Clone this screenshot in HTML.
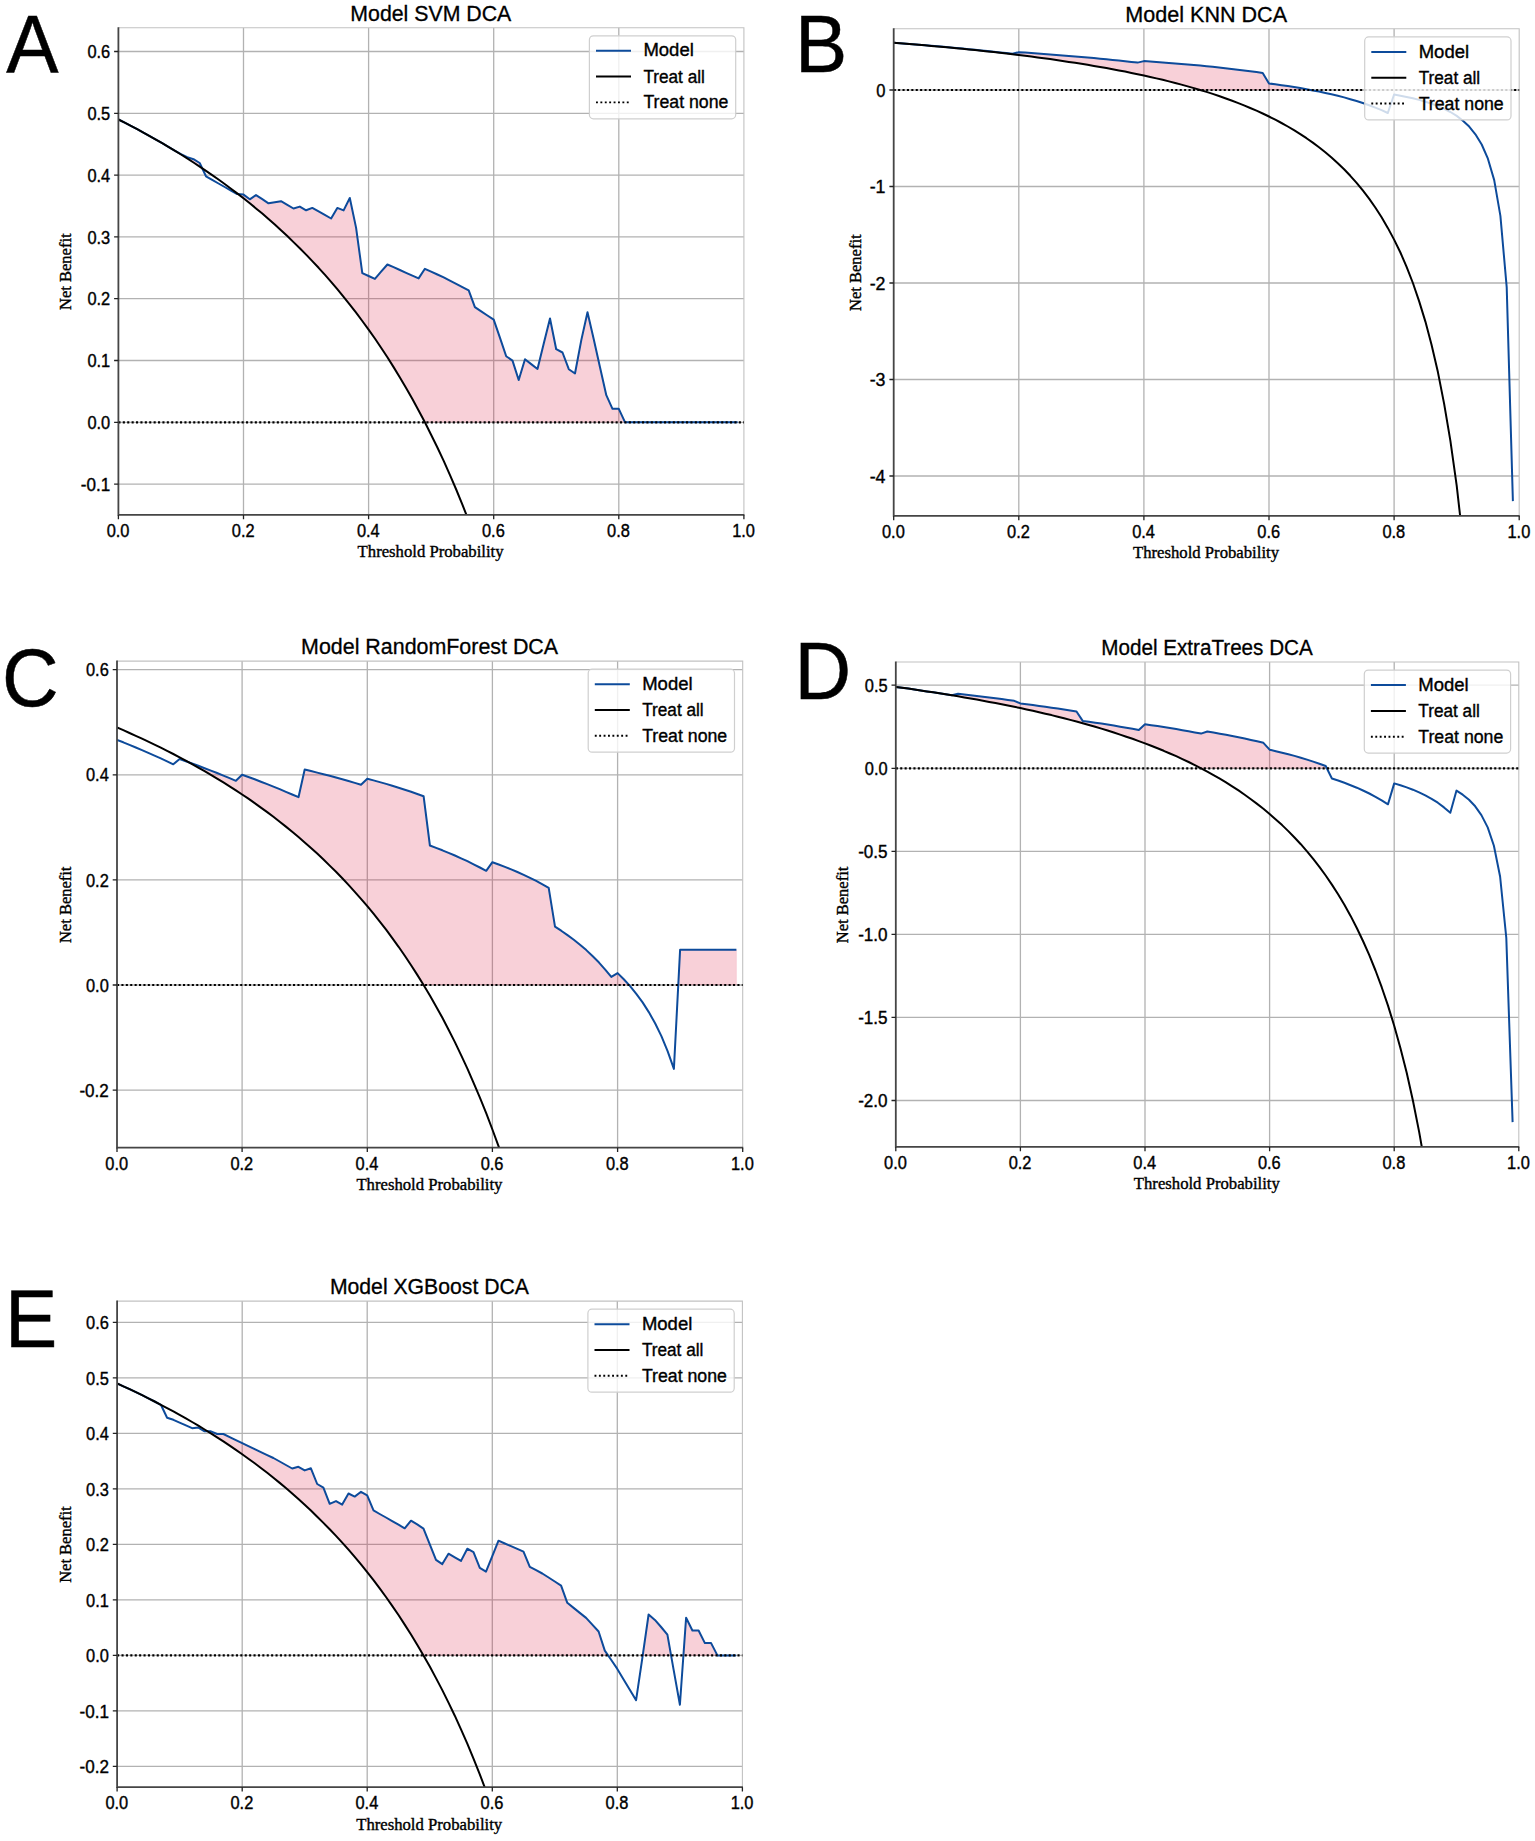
<!DOCTYPE html>
<html lang="en">
<head>
<meta charset="utf-8">
<title>DCA curves</title>
<style>
html,body{margin:0;padding:0;background:#fff;}
body{width:1535px;height:1841px;overflow:hidden;}
svg{display:block;}
text{white-space:pre;}
</style>
</head>
<body>
<svg width="1535" height="1841" viewBox="0 0 1535 1841">
<rect width="1535" height="1841" fill="#fff"/>
<g>
<clipPath id="clip0"><rect x="118.4" y="27.7" width="625.5" height="487.2"/></clipPath>
<path d="M243.5 27.7V514.9M368.6 27.7V514.9M493.7 27.7V514.9M618.8 27.7V514.9M118.4 484.1H743.9M118.4 422.3H743.9M118.4 360.5H743.9M118.4 298.7H743.9M118.4 236.9H743.9M118.4 175.1H743.9M118.4 113.3H743.9M118.4 51.5H743.9" fill="none" stroke="#b2b2b2" stroke-width="1.3"/>
<path d="M118.4 27.7H743.9V514.9" fill="none" stroke="#c2c2c2" stroke-width="1.1"/>
<path d="M174.7 150.7L181.0 154.2L187.2 157.1L193.5 159.2L199.7 163.0L202.2 168.2L202.2 168.2L199.7 166.6L193.5 162.5L187.2 158.4L181.0 154.5L174.7 150.7ZM238.3 194.2L243.5 194.6L249.8 199.3L256.0 195.1L262.3 199.2L268.5 203.3L274.8 202.2L281.0 201.2L287.3 204.8L293.5 208.5L299.8 206.6L306.1 210.3L312.3 207.9L318.6 211.4L324.8 214.9L331.1 218.5L337.3 207.9L343.6 210.4L349.8 198.0L356.1 227.9L362.3 273.1L368.6 276.0L374.9 278.9L381.1 271.7L387.4 264.5L393.6 267.2L399.9 270.0L406.1 272.8L412.4 275.6L418.6 278.4L424.9 268.8L431.1 271.7L437.4 274.5L443.7 277.4L449.9 280.6L456.2 283.9L462.4 287.2L468.7 290.4L474.9 307.1L481.2 311.3L487.4 315.5L493.7 319.7L500.0 337.9L506.2 356.2L512.5 360.6L518.7 380.0L525.0 359.3L531.2 364.1L537.5 369.0L543.7 343.7L550.0 318.5L556.2 349.2L562.5 352.5L568.8 369.2L575.0 373.5L581.3 340.1L587.5 312.3L593.8 339.5L600.0 367.3L606.3 395.2L612.5 408.8L618.8 408.8L625.1 422.3L625.1 422.3L618.8 422.3L612.5 422.3L606.3 422.3L600.0 422.3L593.8 422.3L587.5 422.3L581.3 422.3L575.0 422.3L568.8 422.3L562.5 422.3L556.2 422.3L550.0 422.3L543.7 422.3L537.5 422.3L531.2 422.3L525.0 422.3L518.7 422.3L512.5 422.3L506.2 422.3L500.0 422.3L493.7 422.3L487.4 422.3L481.2 422.3L474.9 422.3L468.7 422.3L462.4 422.3L456.2 422.3L449.9 422.3L443.7 422.3L437.4 422.3L431.1 422.3L424.9 422.3L418.6 410.4L412.4 399.0L406.1 388.0L399.9 377.4L393.6 367.1L387.4 357.2L381.1 347.7L374.9 338.5L368.6 329.6L362.3 321.0L356.1 312.7L349.8 304.6L343.6 296.8L337.3 289.2L331.1 281.8L324.8 274.7L318.6 267.8L312.3 261.1L306.1 254.6L299.8 248.2L293.5 242.1L287.3 236.1L281.0 230.2L274.8 224.5L268.5 219.0L262.3 213.6L256.0 208.4L249.8 203.3L243.5 198.3L238.3 194.2Z" fill="#dc143c" fill-opacity="0.2" stroke="#dc143c" stroke-opacity="0.12" stroke-width="0.8" clip-path="url(#clip0)"/>
<polyline points="118.4,119.5 124.7,122.7 130.9,125.9 137.2,129.2 143.4,132.6 149.7,136.1 155.9,139.6 162.2,143.2 168.4,146.9 174.7,150.7 181.0,154.2 187.2,157.1 193.5,159.2 199.7,163.0 206.0,176.3 212.2,179.9 218.5,183.5 224.7,187.0 231.0,190.6 237.2,194.1 243.5,194.6 249.8,199.3 256.0,195.1 262.3,199.2 268.5,203.3 274.8,202.2 281.0,201.2 287.3,204.8 293.5,208.5 299.8,206.6 306.1,210.3 312.3,207.9 318.6,211.4 324.8,214.9 331.1,218.5 337.3,207.9 343.6,210.4 349.8,198.0 356.1,227.9 362.3,273.1 368.6,276.0 374.9,278.9 381.1,271.7 387.4,264.5 393.6,267.2 399.9,270.0 406.1,272.8 412.4,275.6 418.6,278.4 424.9,268.8 431.1,271.7 437.4,274.5 443.7,277.4 449.9,280.6 456.2,283.9 462.4,287.2 468.7,290.4 474.9,307.1 481.2,311.3 487.4,315.5 493.7,319.7 500.0,337.9 506.2,356.2 512.5,360.6 518.7,380.0 525.0,359.3 531.2,364.1 537.5,369.0 543.7,343.7 550.0,318.5 556.2,349.2 562.5,352.5 568.8,369.2 575.0,373.5 581.3,340.1 587.5,312.3 593.8,339.5 600.0,367.3 606.3,395.2 612.5,408.8 618.8,408.8 625.1,422.3 631.3,422.3 637.6,422.3 643.8,422.3 650.1,422.3 656.3,422.3 662.6,422.3 668.8,422.3 675.1,422.3 681.4,422.3 687.6,422.3 693.9,422.3 700.1,422.3 706.4,422.3 712.6,422.3 718.9,422.3 725.1,422.3 731.4,422.3 737.6,422.3" fill="none" stroke="#0d4b9b" stroke-width="2" stroke-linejoin="round" clip-path="url(#clip0)"/>
<polyline points="118.4,119.5 124.7,122.7 130.9,125.9 137.2,129.2 143.4,132.6 149.7,136.1 155.9,139.6 162.2,143.2 168.4,146.9 174.7,150.7 181.0,154.5 187.2,158.4 193.5,162.5 199.7,166.6 206.0,170.8 212.2,175.1 218.5,179.5 224.7,184.0 231.0,188.7 237.2,193.4 243.5,198.3 249.8,203.3 256.0,208.4 262.3,213.6 268.5,219.0 274.8,224.5 281.0,230.2 287.3,236.1 293.5,242.1 299.8,248.2 306.1,254.6 312.3,261.1 318.6,267.8 324.8,274.7 331.1,281.8 337.3,289.2 343.6,296.8 349.8,304.6 356.1,312.7 362.3,321.0 368.6,329.6 374.9,338.5 381.1,347.7 387.4,357.2 393.6,367.1 399.9,377.4 406.1,388.0 412.4,399.0 418.6,410.4 424.9,422.3 431.1,434.7 437.4,447.5 443.7,460.9 449.9,474.9 456.2,489.5 462.4,504.7 468.7,520.6 474.9,537.3 481.2,554.7 487.4,573.0 493.7,592.2 500.0,612.5 506.2,633.7 512.5,656.1 518.7,679.8 525.0,704.8 531.2,731.3 537.5,759.4 543.7,789.2 550.0,821.0 556.2,854.9 562.5,891.1" fill="none" stroke="#000" stroke-width="2" stroke-linejoin="round" clip-path="url(#clip0)"/>
<path d="M118.4 422.3H743.9" stroke="#000" stroke-width="2.2" stroke-dasharray="2.1 2.3" fill="none"/>
<path d="M118.4 27.2V514.9H744.4" fill="none" stroke="#454545" stroke-width="1.8"/>
<path d="M118.4 514.9v4.3M243.5 514.9v4.3M368.6 514.9v4.3M493.7 514.9v4.3M618.8 514.9v4.3M743.9 514.9v4.3M118.4 484.1h-4.3M118.4 422.3h-4.3M118.4 360.5h-4.3M118.4 298.7h-4.3M118.4 236.9h-4.3M118.4 175.1h-4.3M118.4 113.3h-4.3M118.4 51.5h-4.3" fill="none" stroke="#222" stroke-width="1.3"/>
<g font-family='"Liberation Sans", sans-serif' font-size="18.8" fill="#000" stroke="#000" stroke-width="0.4">
<text x="106.7" y="536.8" textLength="22.8" lengthAdjust="spacingAndGlyphs">0.0</text>
<text x="231.8" y="536.8" textLength="22.8" lengthAdjust="spacingAndGlyphs">0.2</text>
<text x="356.9" y="536.8" textLength="22.8" lengthAdjust="spacingAndGlyphs">0.4</text>
<text x="482.0" y="536.8" textLength="22.8" lengthAdjust="spacingAndGlyphs">0.6</text>
<text x="607.1" y="536.8" textLength="22.8" lengthAdjust="spacingAndGlyphs">0.8</text>
<text x="732.2" y="536.8" textLength="22.8" lengthAdjust="spacingAndGlyphs">1.0</text>
<text x="80.8" y="490.7" textLength="29.4" lengthAdjust="spacingAndGlyphs">-0.1</text>
<text x="87.4" y="428.9" textLength="22.8" lengthAdjust="spacingAndGlyphs">0.0</text>
<text x="87.4" y="367.1" textLength="22.8" lengthAdjust="spacingAndGlyphs">0.1</text>
<text x="87.4" y="305.3" textLength="22.8" lengthAdjust="spacingAndGlyphs">0.2</text>
<text x="87.4" y="243.5" textLength="22.8" lengthAdjust="spacingAndGlyphs">0.3</text>
<text x="87.4" y="181.7" textLength="22.8" lengthAdjust="spacingAndGlyphs">0.4</text>
<text x="87.4" y="119.9" textLength="22.8" lengthAdjust="spacingAndGlyphs">0.5</text>
<text x="87.4" y="58.1" textLength="22.8" lengthAdjust="spacingAndGlyphs">0.6</text>
</g>
<text x="430.6" y="557.4" font-family='"Liberation Serif", serif' font-size="17.6" stroke="#000" stroke-width="0.4" text-anchor="middle" textLength="146" lengthAdjust="spacingAndGlyphs">Threshold Probability</text>
<text transform="translate(71.4 271.7) rotate(-90)" font-family='"Liberation Serif", serif' font-size="17.6" stroke="#000" stroke-width="0.4" text-anchor="middle" textLength="76.5" lengthAdjust="spacingAndGlyphs">Net Benefit</text>
<text x="430.8" y="20.9" font-family='"Liberation Sans", sans-serif' font-size="21.2" stroke="#000" stroke-width="0.3" text-anchor="middle" textLength="161.0" lengthAdjust="spacingAndGlyphs">Model SVM DCA</text>
<rect x="589.4" y="35.8" width="146.3" height="83.0" rx="4" ry="4" fill="#fff" fill-opacity="0.8" stroke="#cfcfcf" stroke-width="1.2"/>
<path d="M596.0 50.8h35" stroke="#0d4b9b" stroke-width="2" fill="none"/>
<path d="M596.0 76.6h35" stroke="#000" stroke-width="2" fill="none"/>
<path d="M596.0 102.4h35" stroke="#000" stroke-width="1.9" stroke-dasharray="1.9 2.5" fill="none"/>
<g font-family='"Liberation Sans", sans-serif' font-size="17.6" fill="#000" stroke="#000" stroke-width="0.35">
<text x="643.4" y="56.4" textLength="50.4" lengthAdjust="spacingAndGlyphs">Model</text>
<text x="643.4" y="82.7" textLength="61.5" lengthAdjust="spacingAndGlyphs">Treat all</text>
<text x="643.4" y="108.4" textLength="85.0" lengthAdjust="spacingAndGlyphs">Treat none</text>
</g>
<text transform="translate(6.3 72.4) scale(0.965 1)" font-family='"Liberation Sans", sans-serif' font-size="81.2" fill="#000" stroke="#000" stroke-width="0.5">A</text>
</g>
<g>
<clipPath id="clip1"><rect x="893.7" y="28.8" width="625.5" height="487.1"/></clipPath>
<path d="M1018.8 28.8V515.9M1143.9 28.8V515.9M1269.0 28.8V515.9M1394.1 28.8V515.9M893.7 90.0H1519.2M893.7 186.5H1519.2M893.7 283.0H1519.2M893.7 379.5H1519.2M893.7 476.0H1519.2" fill="none" stroke="#b2b2b2" stroke-width="1.3"/>
<path d="M893.7 28.8H1519.2V515.9" fill="none" stroke="#c2c2c2" stroke-width="1.1"/>
<path d="M893.7 42.7L900.0 43.2L906.2 43.7L912.5 44.2L918.7 44.7L925.0 45.2L931.2 45.7L937.5 46.3L943.7 46.8L950.0 47.4L956.2 48.0L962.5 48.6L968.8 49.2L975.0 49.8L981.3 50.4L987.5 51.1L993.8 51.7L1000.0 52.4L1006.3 53.1L1012.5 53.8L1018.8 52.2L1025.1 52.6L1031.3 53.0L1037.6 53.5L1043.8 53.9L1050.1 54.4L1056.3 54.9L1062.6 55.4L1068.8 55.9L1075.1 56.4L1081.4 56.9L1087.6 57.5L1093.9 58.1L1100.1 58.7L1106.4 59.3L1112.6 59.9L1118.9 60.5L1125.1 61.2L1131.4 61.9L1137.6 62.6L1143.9 61.1L1150.2 61.5L1156.4 61.9L1162.7 62.4L1168.9 62.9L1175.2 63.4L1181.4 63.9L1187.7 64.5L1193.9 65.0L1200.2 65.6L1206.5 66.2L1212.7 66.8L1219.0 67.5L1225.2 68.2L1231.5 68.9L1237.7 69.7L1244.0 70.4L1250.2 71.3L1256.5 72.1L1262.7 73.0L1269.0 83.5L1275.3 84.3L1281.5 85.2L1287.8 86.1L1294.0 87.1L1300.3 88.1L1306.5 89.2L1310.7 90.0L1310.7 90.0L1306.5 90.0L1300.3 90.0L1294.0 90.0L1287.8 90.0L1281.5 90.0L1275.3 90.0L1269.0 90.0L1262.7 90.0L1256.5 90.0L1250.2 90.0L1244.0 90.0L1237.7 90.0L1231.5 90.0L1225.2 90.0L1219.0 90.0L1212.7 90.0L1206.5 90.0L1200.2 90.0L1193.9 88.1L1187.7 86.4L1181.4 84.6L1175.2 83.0L1168.9 81.4L1162.7 79.8L1156.4 78.4L1150.2 76.9L1143.9 75.5L1137.6 74.2L1131.4 72.9L1125.1 71.6L1118.9 70.4L1112.6 69.2L1106.4 68.1L1100.1 67.0L1093.9 65.9L1087.6 64.8L1081.4 63.8L1075.1 62.8L1068.8 61.9L1062.6 60.9L1056.3 60.0L1050.1 59.1L1043.8 58.3L1037.6 57.4L1031.3 56.6L1025.1 55.8L1018.8 55.0L1012.5 54.3L1006.3 53.5L1000.0 52.8L993.8 52.1L987.5 51.4L981.3 50.7L975.0 50.1L968.8 49.4L962.5 48.8L956.2 48.2L950.0 47.6L943.7 47.0L937.5 46.4L931.2 45.9L925.0 45.3L918.7 44.8L912.5 44.2L906.2 43.7L900.0 43.2L893.7 42.7Z" fill="#dc143c" fill-opacity="0.2" stroke="#dc143c" stroke-opacity="0.12" stroke-width="0.8" clip-path="url(#clip1)"/>
<polyline points="893.7,42.7 900.0,43.2 906.2,43.7 912.5,44.2 918.7,44.7 925.0,45.2 931.2,45.7 937.5,46.3 943.7,46.8 950.0,47.4 956.2,48.0 962.5,48.6 968.8,49.2 975.0,49.8 981.3,50.4 987.5,51.1 993.8,51.7 1000.0,52.4 1006.3,53.1 1012.5,53.8 1018.8,52.2 1025.1,52.6 1031.3,53.0 1037.6,53.5 1043.8,53.9 1050.1,54.4 1056.3,54.9 1062.6,55.4 1068.8,55.9 1075.1,56.4 1081.4,56.9 1087.6,57.5 1093.9,58.1 1100.1,58.7 1106.4,59.3 1112.6,59.9 1118.9,60.5 1125.1,61.2 1131.4,61.9 1137.6,62.6 1143.9,61.1 1150.2,61.5 1156.4,61.9 1162.7,62.4 1168.9,62.9 1175.2,63.4 1181.4,63.9 1187.7,64.5 1193.9,65.0 1200.2,65.6 1206.5,66.2 1212.7,66.8 1219.0,67.5 1225.2,68.2 1231.5,68.9 1237.7,69.7 1244.0,70.4 1250.2,71.3 1256.5,72.1 1262.7,73.0 1269.0,83.5 1275.3,84.3 1281.5,85.2 1287.8,86.1 1294.0,87.1 1300.3,88.1 1306.5,89.2 1312.8,90.4 1319.0,91.6 1325.3,92.9 1331.5,94.3 1337.8,95.8 1344.1,97.4 1350.3,99.2 1356.6,101.0 1362.8,103.0 1369.1,105.2 1375.3,107.6 1381.6,110.1 1387.8,113.0 1394.1,94.5 1400.4,95.7 1406.6,96.9 1412.9,98.3 1419.1,99.9 1425.4,101.7 1431.6,103.7 1437.9,106.1 1444.1,108.8 1450.4,112.0 1456.7,115.9 1462.9,120.7 1469.2,126.6 1475.4,134.3 1481.7,144.5 1487.9,158.7 1494.2,180.1 1500.4,215.8 1506.7,287.1 1512.9,501.1" fill="none" stroke="#0d4b9b" stroke-width="2" stroke-linejoin="round" clip-path="url(#clip1)"/>
<polyline points="893.7,42.7 900.0,43.2 906.2,43.7 912.5,44.2 918.7,44.8 925.0,45.3 931.2,45.9 937.5,46.4 943.7,47.0 950.0,47.6 956.2,48.2 962.5,48.8 968.8,49.4 975.0,50.1 981.3,50.7 987.5,51.4 993.8,52.1 1000.0,52.8 1006.3,53.5 1012.5,54.3 1018.8,55.0 1025.1,55.8 1031.3,56.6 1037.6,57.4 1043.8,58.3 1050.1,59.1 1056.3,60.0 1062.6,60.9 1068.8,61.9 1075.1,62.8 1081.4,63.8 1087.6,64.8 1093.9,65.9 1100.1,67.0 1106.4,68.1 1112.6,69.2 1118.9,70.4 1125.1,71.6 1131.4,72.9 1137.6,74.2 1143.9,75.5 1150.2,76.9 1156.4,78.4 1162.7,79.8 1168.9,81.4 1175.2,83.0 1181.4,84.6 1187.7,86.4 1193.9,88.1 1200.2,90.0 1206.5,91.9 1212.7,93.9 1219.0,96.0 1225.2,98.2 1231.5,100.5 1237.7,102.9 1244.0,105.4 1250.2,108.0 1256.5,110.7 1262.7,113.5 1269.0,116.5 1275.3,119.7 1281.5,123.0 1287.8,126.5 1294.0,130.2 1300.3,134.1 1306.5,138.2 1312.8,142.6 1319.0,147.3 1325.3,152.3 1331.5,157.5 1337.8,163.2 1344.1,169.3 1350.3,175.8 1356.6,182.8 1362.8,190.4 1369.1,198.6 1375.3,207.5 1381.6,217.2 1387.8,227.9 1394.1,239.6 1400.4,252.5 1406.6,266.9 1412.9,283.0 1419.1,301.1 1425.4,321.6 1431.6,345.0 1437.9,372.1 1444.1,403.6 1450.4,440.9 1456.7,485.7 1462.9,540.3 1469.2,608.7 1475.4,696.6 1481.7,813.7" fill="none" stroke="#000" stroke-width="2" stroke-linejoin="round" clip-path="url(#clip1)"/>
<path d="M893.7 90.0H1519.2" stroke="#000" stroke-width="2.2" stroke-dasharray="2.1 2.3" fill="none"/>
<path d="M893.7 28.3V515.9H1519.7" fill="none" stroke="#454545" stroke-width="1.8"/>
<path d="M893.7 515.9v4.3M1018.8 515.9v4.3M1143.9 515.9v4.3M1269.0 515.9v4.3M1394.1 515.9v4.3M1519.2 515.9v4.3M893.7 90.0h-4.3M893.7 186.5h-4.3M893.7 283.0h-4.3M893.7 379.5h-4.3M893.7 476.0h-4.3" fill="none" stroke="#222" stroke-width="1.3"/>
<g font-family='"Liberation Sans", sans-serif' font-size="18.8" fill="#000" stroke="#000" stroke-width="0.4">
<text x="882.0" y="537.8" textLength="22.8" lengthAdjust="spacingAndGlyphs">0.0</text>
<text x="1007.1" y="537.8" textLength="22.8" lengthAdjust="spacingAndGlyphs">0.2</text>
<text x="1132.2" y="537.8" textLength="22.8" lengthAdjust="spacingAndGlyphs">0.4</text>
<text x="1257.3" y="537.8" textLength="22.8" lengthAdjust="spacingAndGlyphs">0.6</text>
<text x="1382.4" y="537.8" textLength="22.8" lengthAdjust="spacingAndGlyphs">0.8</text>
<text x="1507.5" y="537.8" textLength="22.8" lengthAdjust="spacingAndGlyphs">1.0</text>
<text x="876.3" y="96.6" textLength="9.2" lengthAdjust="spacingAndGlyphs">0</text>
<text x="869.7" y="193.1" textLength="15.8" lengthAdjust="spacingAndGlyphs">-1</text>
<text x="869.7" y="289.6" textLength="15.8" lengthAdjust="spacingAndGlyphs">-2</text>
<text x="869.7" y="386.1" textLength="15.8" lengthAdjust="spacingAndGlyphs">-3</text>
<text x="869.7" y="482.6" textLength="15.8" lengthAdjust="spacingAndGlyphs">-4</text>
</g>
<text x="1206.0" y="558.4" font-family='"Liberation Serif", serif' font-size="17.6" stroke="#000" stroke-width="0.4" text-anchor="middle" textLength="146" lengthAdjust="spacingAndGlyphs">Threshold Probability</text>
<text transform="translate(861.0 272.7) rotate(-90)" font-family='"Liberation Serif", serif' font-size="17.6" stroke="#000" stroke-width="0.4" text-anchor="middle" textLength="76.5" lengthAdjust="spacingAndGlyphs">Net Benefit</text>
<text x="1206.2" y="22.0" font-family='"Liberation Sans", sans-serif' font-size="21.2" stroke="#000" stroke-width="0.3" text-anchor="middle" textLength="161.7" lengthAdjust="spacingAndGlyphs">Model KNN DCA</text>
<rect x="1364.7" y="36.9" width="146.3" height="83.0" rx="4" ry="4" fill="#fff" fill-opacity="0.8" stroke="#cfcfcf" stroke-width="1.2"/>
<path d="M1371.3 51.9h35" stroke="#0d4b9b" stroke-width="2" fill="none"/>
<path d="M1371.3 77.7h35" stroke="#000" stroke-width="2" fill="none"/>
<path d="M1371.3 103.5h35" stroke="#000" stroke-width="1.9" stroke-dasharray="1.9 2.5" fill="none"/>
<g font-family='"Liberation Sans", sans-serif' font-size="17.6" fill="#000" stroke="#000" stroke-width="0.35">
<text x="1418.7" y="57.5" textLength="50.4" lengthAdjust="spacingAndGlyphs">Model</text>
<text x="1418.7" y="83.8" textLength="61.5" lengthAdjust="spacingAndGlyphs">Treat all</text>
<text x="1418.7" y="109.5" textLength="85.0" lengthAdjust="spacingAndGlyphs">Treat none</text>
</g>
<text transform="translate(795.0 72.4) scale(0.965 1)" font-family='"Liberation Sans", sans-serif' font-size="81.2" fill="#000" stroke="#000" stroke-width="0.5">B</text>
</g>
<g>
<clipPath id="clip2"><rect x="117.0" y="661.1" width="625.7" height="486.6"/></clipPath>
<path d="M242.1 661.1V1147.7M367.3 661.1V1147.7M492.4 661.1V1147.7M617.6 661.1V1147.7M117.0 1090.1H742.7M117.0 985.0H742.7M117.0 879.9H742.7M117.0 774.8H742.7M117.0 669.7H742.7" fill="none" stroke="#b2b2b2" stroke-width="1.3"/>
<path d="M117.0 661.1H742.7V1147.7" fill="none" stroke="#c2c2c2" stroke-width="1.1"/>
<path d="M189.2 762.5L192.1 763.5L198.3 765.8L204.6 768.2L210.9 770.6L217.1 773.0L223.4 775.6L229.6 778.2L235.9 780.8L242.1 774.8L248.4 777.0L254.7 779.3L260.9 781.7L267.2 784.1L273.4 786.6L279.7 789.1L285.9 791.8L292.2 794.5L298.5 797.2L304.7 769.5L311.0 771.0L317.2 772.6L323.5 774.2L329.7 775.8L336.0 777.5L342.3 779.2L348.5 781.0L354.8 782.9L361.0 784.8L367.3 778.7L373.5 780.4L379.8 782.1L386.1 783.9L392.3 785.8L398.6 787.7L404.8 789.7L411.1 791.8L417.3 794.0L423.6 796.2L429.9 845.5L436.1 847.9L442.4 850.3L448.6 852.9L454.9 855.5L461.1 858.3L467.4 861.2L473.6 864.3L479.9 867.5L486.2 870.8L492.4 862.2L498.7 864.5L504.9 866.9L511.2 869.4L517.4 872.0L523.7 874.8L530.0 877.8L536.2 880.9L542.5 884.3L548.7 887.8L555.0 926.7L561.2 930.7L567.5 935.1L573.8 939.7L580.0 944.7L586.3 950.1L592.5 956.0L598.8 962.3L605.0 969.3L611.3 976.9L617.6 973.1L623.8 979.3L629.1 985.0L629.1 985.0L623.8 985.0L617.6 985.0L611.3 985.0L605.0 985.0L598.8 985.0L592.5 985.0L586.3 985.0L580.0 985.0L573.8 985.0L567.5 985.0L561.2 985.0L555.0 985.0L548.7 985.0L542.5 985.0L536.2 985.0L530.0 985.0L523.7 985.0L517.4 985.0L511.2 985.0L504.9 985.0L498.7 985.0L492.4 985.0L486.2 985.0L479.9 985.0L473.6 985.0L467.4 985.0L461.1 985.0L454.9 985.0L448.6 985.0L442.4 985.0L436.1 985.0L429.9 985.0L423.6 985.0L417.3 974.9L411.1 965.2L404.8 955.8L398.6 946.8L392.3 938.1L386.1 929.7L379.8 921.6L373.5 913.7L367.3 906.2L361.0 898.9L354.8 891.8L348.5 884.9L342.3 878.3L336.0 871.8L329.7 865.6L323.5 859.5L317.2 853.6L311.0 847.9L304.7 842.4L298.5 837.0L292.2 831.7L285.9 826.6L279.7 821.7L273.4 816.8L267.2 812.1L260.9 807.6L254.7 803.1L248.4 798.7L242.1 794.5L235.9 790.4L229.6 786.3L223.4 782.4L217.1 778.6L210.9 774.8L204.6 771.1L198.3 767.6L192.1 764.1L189.2 762.5ZM678.3 985.0L680.1 949.8L686.4 949.8L692.6 949.8L698.9 949.8L705.2 949.8L711.4 949.8L717.7 949.8L723.9 949.8L730.2 949.8L736.4 949.8L736.4 985.0L730.2 985.0L723.9 985.0L717.7 985.0L711.4 985.0L705.2 985.0L698.9 985.0L692.6 985.0L686.4 985.0L680.1 985.0L678.3 985.0Z" fill="#dc143c" fill-opacity="0.2" stroke="#dc143c" stroke-opacity="0.12" stroke-width="0.8" clip-path="url(#clip2)"/>
<polyline points="117.0,739.9 123.3,742.3 129.5,744.9 135.8,747.5 142.0,750.1 148.3,752.9 154.5,755.6 160.8,758.4 167.1,761.3 173.3,764.3 179.6,759.1 185.8,761.3 192.1,763.5 198.3,765.8 204.6,768.2 210.9,770.6 217.1,773.0 223.4,775.6 229.6,778.2 235.9,780.8 242.1,774.8 248.4,777.0 254.7,779.3 260.9,781.7 267.2,784.1 273.4,786.6 279.7,789.1 285.9,791.8 292.2,794.5 298.5,797.2 304.7,769.5 311.0,771.0 317.2,772.6 323.5,774.2 329.7,775.8 336.0,777.5 342.3,779.2 348.5,781.0 354.8,782.9 361.0,784.8 367.3,778.7 373.5,780.4 379.8,782.1 386.1,783.9 392.3,785.8 398.6,787.7 404.8,789.7 411.1,791.8 417.3,794.0 423.6,796.2 429.9,845.5 436.1,847.9 442.4,850.3 448.6,852.9 454.9,855.5 461.1,858.3 467.4,861.2 473.6,864.3 479.9,867.5 486.2,870.8 492.4,862.2 498.7,864.5 504.9,866.9 511.2,869.4 517.4,872.0 523.7,874.8 530.0,877.8 536.2,880.9 542.5,884.3 548.7,887.8 555.0,926.7 561.2,930.7 567.5,935.1 573.8,939.7 580.0,944.7 586.3,950.1 592.5,956.0 598.8,962.3 605.0,969.3 611.3,976.9 617.6,973.1 623.8,979.3 630.1,986.1 636.3,993.8 642.6,1002.4 648.8,1012.1 655.1,1023.3 661.4,1036.1 667.6,1051.1 673.9,1068.9 680.1,949.8 686.4,949.8 692.6,949.8 698.9,949.8 705.2,949.8 711.4,949.8 717.7,949.8 723.9,949.8 730.2,949.8 736.4,949.8" fill="none" stroke="#0d4b9b" stroke-width="2" stroke-linejoin="round" clip-path="url(#clip2)"/>
<polyline points="117.0,727.5 123.3,730.2 129.5,733.0 135.8,735.8 142.0,738.7 148.3,741.6 154.5,744.6 160.8,747.7 167.1,750.8 173.3,754.0 179.6,757.3 185.8,760.6 192.1,764.1 198.3,767.6 204.6,771.1 210.9,774.8 217.1,778.6 223.4,782.4 229.6,786.3 235.9,790.4 242.1,794.5 248.4,798.7 254.7,803.1 260.9,807.6 267.2,812.1 273.4,816.8 279.7,821.7 285.9,826.6 292.2,831.7 298.5,837.0 304.7,842.4 311.0,847.9 317.2,853.6 323.5,859.5 329.7,865.6 336.0,871.8 342.3,878.3 348.5,884.9 354.8,891.8 361.0,898.9 367.3,906.2 373.5,913.7 379.8,921.6 386.1,929.7 392.3,938.1 398.6,946.8 404.8,955.8 411.1,965.2 417.3,974.9 423.6,985.0 429.9,995.5 436.1,1006.4 442.4,1017.8 448.6,1029.7 454.9,1042.1 461.1,1055.1 467.4,1068.6 473.6,1082.8 479.9,1097.6 486.2,1113.2 492.4,1129.5 498.7,1146.7 504.9,1164.8 511.2,1183.8 517.4,1204.0 523.7,1225.2 530.0,1247.8 536.2,1271.6 542.5,1297.0 548.7,1324.0 555.0,1352.8 561.2,1383.7 567.5,1416.7 573.8,1452.1 580.0,1490.3 586.3,1531.5" fill="none" stroke="#000" stroke-width="2" stroke-linejoin="round" clip-path="url(#clip2)"/>
<path d="M117.0 985.0H742.7" stroke="#000" stroke-width="2.2" stroke-dasharray="2.1 2.3" fill="none"/>
<path d="M117.0 660.6V1147.7H743.2" fill="none" stroke="#454545" stroke-width="1.8"/>
<path d="M117.0 1147.7v4.3M242.1 1147.7v4.3M367.3 1147.7v4.3M492.4 1147.7v4.3M617.6 1147.7v4.3M742.7 1147.7v4.3M117.0 1090.1h-4.3M117.0 985.0h-4.3M117.0 879.9h-4.3M117.0 774.8h-4.3M117.0 669.7h-4.3" fill="none" stroke="#222" stroke-width="1.3"/>
<g font-family='"Liberation Sans", sans-serif' font-size="18.8" fill="#000" stroke="#000" stroke-width="0.4">
<text x="105.3" y="1169.6" textLength="22.8" lengthAdjust="spacingAndGlyphs">0.0</text>
<text x="230.4" y="1169.6" textLength="22.8" lengthAdjust="spacingAndGlyphs">0.2</text>
<text x="355.6" y="1169.6" textLength="22.8" lengthAdjust="spacingAndGlyphs">0.4</text>
<text x="480.7" y="1169.6" textLength="22.8" lengthAdjust="spacingAndGlyphs">0.6</text>
<text x="605.9" y="1169.6" textLength="22.8" lengthAdjust="spacingAndGlyphs">0.8</text>
<text x="731.0" y="1169.6" textLength="22.8" lengthAdjust="spacingAndGlyphs">1.0</text>
<text x="79.4" y="1096.7" textLength="29.4" lengthAdjust="spacingAndGlyphs">-0.2</text>
<text x="86.0" y="991.6" textLength="22.8" lengthAdjust="spacingAndGlyphs">0.0</text>
<text x="86.0" y="886.5" textLength="22.8" lengthAdjust="spacingAndGlyphs">0.2</text>
<text x="86.0" y="781.4" textLength="22.8" lengthAdjust="spacingAndGlyphs">0.4</text>
<text x="86.0" y="676.3" textLength="22.8" lengthAdjust="spacingAndGlyphs">0.6</text>
</g>
<text x="429.4" y="1190.2" font-family='"Liberation Serif", serif' font-size="17.6" stroke="#000" stroke-width="0.4" text-anchor="middle" textLength="146" lengthAdjust="spacingAndGlyphs">Threshold Probability</text>
<text transform="translate(71.4 904.8) rotate(-90)" font-family='"Liberation Serif", serif' font-size="17.6" stroke="#000" stroke-width="0.4" text-anchor="middle" textLength="76.5" lengthAdjust="spacingAndGlyphs">Net Benefit</text>
<text x="429.6" y="654.3" font-family='"Liberation Sans", sans-serif' font-size="21.2" stroke="#000" stroke-width="0.3" text-anchor="middle" textLength="257.0" lengthAdjust="spacingAndGlyphs">Model RandomForest DCA</text>
<rect x="588.2" y="669.2" width="146.3" height="83.0" rx="4" ry="4" fill="#fff" fill-opacity="0.8" stroke="#cfcfcf" stroke-width="1.2"/>
<path d="M594.8 684.2h35" stroke="#0d4b9b" stroke-width="2" fill="none"/>
<path d="M594.8 710.0h35" stroke="#000" stroke-width="2" fill="none"/>
<path d="M594.8 735.8h35" stroke="#000" stroke-width="1.9" stroke-dasharray="1.9 2.5" fill="none"/>
<g font-family='"Liberation Sans", sans-serif' font-size="17.6" fill="#000" stroke="#000" stroke-width="0.35">
<text x="642.2" y="689.8" textLength="50.4" lengthAdjust="spacingAndGlyphs">Model</text>
<text x="642.2" y="716.1" textLength="61.5" lengthAdjust="spacingAndGlyphs">Treat all</text>
<text x="642.2" y="741.8" textLength="85.0" lengthAdjust="spacingAndGlyphs">Treat none</text>
</g>
<text transform="translate(2.0 706.1) scale(0.965 1)" font-family='"Liberation Sans", sans-serif' font-size="81.2" fill="#000" stroke="#000" stroke-width="0.5">C</text>
</g>
<g>
<clipPath id="clip3"><rect x="895.8" y="662.0" width="623.0" height="484.9"/></clipPath>
<path d="M1020.4 662.0V1146.9M1145.0 662.0V1146.9M1269.6 662.0V1146.9M1394.2 662.0V1146.9M895.8 685.2H1518.8M895.8 768.3H1518.8M895.8 851.3H1518.8M895.8 934.4H1518.8M895.8 1017.4H1518.8M895.8 1100.5H1518.8" fill="none" stroke="#b2b2b2" stroke-width="1.3"/>
<path d="M895.8 662.0H1518.8V1146.9" fill="none" stroke="#c2c2c2" stroke-width="1.1"/>
<path d="M951.9 695.3L958.1 693.8L964.3 694.5L970.6 695.2L976.8 696.0L983.0 696.7L989.2 697.5L995.5 698.3L1001.7 699.1L1007.9 700.0L1014.2 700.8L1020.4 703.4L1026.6 704.2L1032.9 705.1L1039.1 705.9L1045.3 706.8L1051.5 707.7L1057.8 708.6L1064.0 709.5L1070.2 710.5L1076.5 711.5L1082.7 720.9L1088.9 721.8L1095.2 722.7L1101.4 723.6L1107.6 724.6L1113.8 725.6L1120.1 726.7L1126.3 727.7L1132.5 728.8L1138.8 730.0L1145.0 724.3L1151.2 725.2L1157.5 726.1L1163.7 727.1L1169.9 728.1L1176.2 729.1L1182.4 730.2L1188.6 731.3L1194.8 732.4L1201.1 733.6L1207.3 731.5L1213.5 732.6L1219.8 733.7L1226.0 734.8L1232.2 736.0L1238.5 737.2L1244.7 738.5L1250.9 739.9L1257.1 741.3L1263.4 742.8L1269.6 749.7L1275.8 751.2L1282.1 752.7L1288.3 754.3L1294.5 755.9L1300.8 757.7L1307.0 759.6L1313.2 761.6L1319.4 763.7L1325.7 766.0L1326.8 768.3L1326.8 768.3L1325.7 768.3L1319.4 768.3L1313.2 768.3L1307.0 768.3L1300.8 768.3L1294.5 768.3L1288.3 768.3L1282.1 768.3L1275.8 768.3L1269.6 768.3L1263.4 768.3L1257.1 768.3L1250.9 768.3L1244.7 768.3L1238.5 768.3L1232.2 768.3L1226.0 768.3L1219.8 768.3L1213.5 768.3L1207.3 768.3L1201.1 768.3L1194.8 765.1L1188.6 762.0L1182.4 759.1L1176.2 756.2L1169.9 753.5L1163.7 750.8L1157.5 748.3L1151.2 745.8L1145.0 743.4L1138.8 741.1L1132.5 738.8L1126.3 736.7L1120.1 734.6L1113.8 732.5L1107.6 730.5L1101.4 728.6L1095.2 726.8L1088.9 725.0L1082.7 723.2L1076.5 721.5L1070.2 719.9L1064.0 718.2L1057.8 716.7L1051.5 715.1L1045.3 713.7L1039.1 712.2L1032.9 710.8L1026.6 709.4L1020.4 708.1L1014.2 706.8L1007.9 705.5L1001.7 704.3L995.5 703.0L989.2 701.9L983.0 700.7L976.8 699.6L970.6 698.5L964.3 697.4L958.1 696.3L951.9 695.3Z" fill="#dc143c" fill-opacity="0.2" stroke="#dc143c" stroke-opacity="0.12" stroke-width="0.8" clip-path="url(#clip3)"/>
<polyline points="895.8,686.9 902.0,687.8 908.3,688.6 914.5,689.5 920.7,690.4 926.9,691.4 933.2,692.3 939.4,693.3 945.6,694.3 951.9,695.3 958.1,693.8 964.3,694.5 970.6,695.2 976.8,696.0 983.0,696.7 989.2,697.5 995.5,698.3 1001.7,699.1 1007.9,700.0 1014.2,700.8 1020.4,703.4 1026.6,704.2 1032.9,705.1 1039.1,705.9 1045.3,706.8 1051.5,707.7 1057.8,708.6 1064.0,709.5 1070.2,710.5 1076.5,711.5 1082.7,720.9 1088.9,721.8 1095.2,722.7 1101.4,723.6 1107.6,724.6 1113.8,725.6 1120.1,726.7 1126.3,727.7 1132.5,728.8 1138.8,730.0 1145.0,724.3 1151.2,725.2 1157.5,726.1 1163.7,727.1 1169.9,728.1 1176.2,729.1 1182.4,730.2 1188.6,731.3 1194.8,732.4 1201.1,733.6 1207.3,731.5 1213.5,732.6 1219.8,733.7 1226.0,734.8 1232.2,736.0 1238.5,737.2 1244.7,738.5 1250.9,739.9 1257.1,741.3 1263.4,742.8 1269.6,749.7 1275.8,751.2 1282.1,752.7 1288.3,754.3 1294.5,755.9 1300.8,757.7 1307.0,759.6 1313.2,761.6 1319.4,763.7 1325.7,766.0 1331.9,778.5 1338.1,780.5 1344.4,782.8 1350.6,785.2 1356.8,787.7 1363.0,790.5 1369.3,793.5 1375.5,796.8 1381.7,800.4 1388.0,804.3 1394.2,783.4 1400.4,785.3 1406.7,787.4 1412.9,789.7 1419.1,792.4 1425.3,795.4 1431.6,798.8 1437.8,802.7 1444.0,807.4 1450.3,812.8 1456.5,790.6 1462.7,794.7 1469.0,799.8 1475.2,806.3 1481.4,815.1 1487.7,827.4 1493.9,845.8 1500.1,876.5 1506.3,937.9 1512.6,1122.1" fill="none" stroke="#0d4b9b" stroke-width="2" stroke-linejoin="round" clip-path="url(#clip3)"/>
<polyline points="895.8,686.9 902.0,687.8 908.3,688.6 914.5,689.5 920.7,690.4 926.9,691.4 933.2,692.3 939.4,693.3 945.6,694.3 951.9,695.3 958.1,696.3 964.3,697.4 970.6,698.5 976.8,699.6 983.0,700.7 989.2,701.9 995.5,703.0 1001.7,704.3 1007.9,705.5 1014.2,706.8 1020.4,708.1 1026.6,709.4 1032.9,710.8 1039.1,712.2 1045.3,713.7 1051.5,715.1 1057.8,716.7 1064.0,718.2 1070.2,719.9 1076.5,721.5 1082.7,723.2 1088.9,725.0 1095.2,726.8 1101.4,728.6 1107.6,730.5 1113.8,732.5 1120.1,734.6 1126.3,736.7 1132.5,738.8 1138.8,741.1 1145.0,743.4 1151.2,745.8 1157.5,748.3 1163.7,750.8 1169.9,753.5 1176.2,756.2 1182.4,759.1 1188.6,762.0 1194.8,765.1 1201.1,768.3 1207.3,771.6 1213.5,775.1 1219.8,778.7 1226.0,782.4 1232.2,786.4 1238.5,790.4 1244.7,794.7 1250.9,799.2 1257.1,803.9 1263.4,808.8 1269.6,814.0 1275.8,819.4 1282.1,825.1 1288.3,831.1 1294.5,837.5 1300.8,844.2 1307.0,851.3 1313.2,858.9 1319.4,866.9 1325.7,875.5 1331.9,884.6 1338.1,894.3 1344.4,904.7 1350.6,915.9 1356.8,928.0 1363.0,941.0 1369.3,955.2 1375.5,970.5 1381.7,987.2 1388.0,1005.6 1394.2,1025.8 1400.4,1048.0 1406.7,1072.8 1412.9,1100.5 1419.1,1131.6 1425.3,1166.9 1431.6,1207.3 1437.8,1253.8 1444.0,1308.1 1450.3,1372.3 1456.5,1449.3 1462.7,1543.4" fill="none" stroke="#000" stroke-width="2" stroke-linejoin="round" clip-path="url(#clip3)"/>
<path d="M895.8 768.3H1518.8" stroke="#000" stroke-width="2.2" stroke-dasharray="2.1 2.3" fill="none"/>
<path d="M895.8 661.5V1146.9H1519.3" fill="none" stroke="#454545" stroke-width="1.8"/>
<path d="M895.8 1146.9v4.3M1020.4 1146.9v4.3M1145.0 1146.9v4.3M1269.6 1146.9v4.3M1394.2 1146.9v4.3M1518.8 1146.9v4.3M895.8 685.2h-4.3M895.8 768.3h-4.3M895.8 851.3h-4.3M895.8 934.4h-4.3M895.8 1017.4h-4.3M895.8 1100.5h-4.3" fill="none" stroke="#222" stroke-width="1.3"/>
<g font-family='"Liberation Sans", sans-serif' font-size="18.8" fill="#000" stroke="#000" stroke-width="0.4">
<text x="884.1" y="1168.8" textLength="22.8" lengthAdjust="spacingAndGlyphs">0.0</text>
<text x="1008.7" y="1168.8" textLength="22.8" lengthAdjust="spacingAndGlyphs">0.2</text>
<text x="1133.3" y="1168.8" textLength="22.8" lengthAdjust="spacingAndGlyphs">0.4</text>
<text x="1257.9" y="1168.8" textLength="22.8" lengthAdjust="spacingAndGlyphs">0.6</text>
<text x="1382.5" y="1168.8" textLength="22.8" lengthAdjust="spacingAndGlyphs">0.8</text>
<text x="1507.1" y="1168.8" textLength="22.8" lengthAdjust="spacingAndGlyphs">1.0</text>
<text x="864.8" y="691.9" textLength="22.8" lengthAdjust="spacingAndGlyphs">0.5</text>
<text x="864.8" y="774.9" textLength="22.8" lengthAdjust="spacingAndGlyphs">0.0</text>
<text x="858.2" y="857.9" textLength="29.4" lengthAdjust="spacingAndGlyphs">-0.5</text>
<text x="858.2" y="941.0" textLength="29.4" lengthAdjust="spacingAndGlyphs">-1.0</text>
<text x="858.2" y="1024.0" textLength="29.4" lengthAdjust="spacingAndGlyphs">-1.5</text>
<text x="858.2" y="1107.1" textLength="29.4" lengthAdjust="spacingAndGlyphs">-2.0</text>
</g>
<text x="1206.8" y="1189.4" font-family='"Liberation Serif", serif' font-size="17.6" stroke="#000" stroke-width="0.4" text-anchor="middle" textLength="146" lengthAdjust="spacingAndGlyphs">Threshold Probability</text>
<text transform="translate(848.2 904.9) rotate(-90)" font-family='"Liberation Serif", serif' font-size="17.6" stroke="#000" stroke-width="0.4" text-anchor="middle" textLength="76.5" lengthAdjust="spacingAndGlyphs">Net Benefit</text>
<text x="1207.0" y="655.2" font-family='"Liberation Sans", sans-serif' font-size="21.2" stroke="#000" stroke-width="0.3" text-anchor="middle" textLength="211.5" lengthAdjust="spacingAndGlyphs">Model ExtraTrees DCA</text>
<rect x="1364.3" y="670.1" width="146.3" height="83.0" rx="4" ry="4" fill="#fff" fill-opacity="0.8" stroke="#cfcfcf" stroke-width="1.2"/>
<path d="M1370.9 685.1h35" stroke="#0d4b9b" stroke-width="2" fill="none"/>
<path d="M1370.9 710.9h35" stroke="#000" stroke-width="2" fill="none"/>
<path d="M1370.9 736.7h35" stroke="#000" stroke-width="1.9" stroke-dasharray="1.9 2.5" fill="none"/>
<g font-family='"Liberation Sans", sans-serif' font-size="17.6" fill="#000" stroke="#000" stroke-width="0.35">
<text x="1418.3" y="690.7" textLength="50.4" lengthAdjust="spacingAndGlyphs">Model</text>
<text x="1418.3" y="717.0" textLength="61.5" lengthAdjust="spacingAndGlyphs">Treat all</text>
<text x="1418.3" y="742.7" textLength="85.0" lengthAdjust="spacingAndGlyphs">Treat none</text>
</g>
<text transform="translate(794.5 698.8) scale(0.965 1)" font-family='"Liberation Sans", sans-serif' font-size="81.2" fill="#000" stroke="#000" stroke-width="0.5">D</text>
</g>
<g>
<clipPath id="clip4"><rect x="117.1" y="1301.1" width="625.3" height="486.1"/></clipPath>
<path d="M242.2 1301.1V1787.2M367.2 1301.1V1787.2M492.3 1301.1V1787.2M617.3 1301.1V1787.2M117.1 1766.4H742.4M117.1 1710.9H742.4M117.1 1655.4H742.4M117.1 1599.9H742.4M117.1 1544.4H742.4M117.1 1488.9H742.4M117.1 1433.4H742.4M117.1 1377.9H742.4M117.1 1322.4H742.4" fill="none" stroke="#b2b2b2" stroke-width="1.3"/>
<path d="M117.1 1301.1H742.4V1787.2" fill="none" stroke="#c2c2c2" stroke-width="1.1"/>
<path d="M207.5 1431.3L210.9 1431.3L217.1 1434.0L223.4 1434.0L229.7 1437.1L235.9 1440.2L242.2 1443.2L248.4 1446.2L254.7 1449.2L260.9 1452.1L267.2 1455.1L273.4 1458.0L279.7 1461.5L285.9 1465.0L292.2 1468.5L298.4 1466.8L304.7 1470.4L310.9 1468.3L317.2 1484.0L323.4 1487.7L329.7 1503.8L336.0 1501.1L342.2 1504.6L348.5 1493.5L354.7 1496.6L361.0 1491.8L367.2 1495.4L373.5 1510.4L379.7 1514.0L386.0 1517.5L392.2 1521.1L398.5 1524.7L404.7 1528.3L411.0 1520.7L417.2 1524.4L423.5 1528.6L429.8 1544.3L436.0 1559.9L442.3 1564.1L448.5 1553.7L454.8 1557.3L461.0 1560.9L467.3 1548.7L473.5 1552.2L479.8 1567.8L486.0 1571.6L492.3 1556.2L498.5 1540.7L504.8 1543.5L511.0 1546.2L517.3 1548.9L523.5 1551.6L529.8 1566.8L536.1 1570.1L542.3 1573.5L548.6 1577.5L554.8 1581.5L561.1 1585.6L567.3 1602.8L573.6 1607.9L579.8 1612.9L586.1 1617.9L592.3 1624.7L598.6 1631.5L604.8 1650.6L608.1 1655.4L608.1 1655.4L604.8 1655.4L598.6 1655.4L592.3 1655.4L586.1 1655.4L579.8 1655.4L573.6 1655.4L567.3 1655.4L561.1 1655.4L554.8 1655.4L548.6 1655.4L542.3 1655.4L536.1 1655.4L529.8 1655.4L523.5 1655.4L517.3 1655.4L511.0 1655.4L504.8 1655.4L498.5 1655.4L492.3 1655.4L486.0 1655.4L479.8 1655.4L473.5 1655.4L467.3 1655.4L461.0 1655.4L454.8 1655.4L448.5 1655.4L442.3 1655.4L436.0 1655.4L429.8 1655.4L423.5 1655.4L417.2 1644.7L411.0 1634.5L404.7 1624.6L398.5 1615.0L392.2 1605.8L386.0 1597.0L379.7 1588.4L373.5 1580.1L367.2 1572.2L361.0 1564.4L354.7 1556.9L348.5 1549.7L342.2 1542.7L336.0 1535.9L329.7 1529.3L323.4 1522.9L317.2 1516.7L310.9 1510.6L304.7 1504.8L298.4 1499.1L292.2 1493.5L285.9 1488.1L279.7 1482.9L273.4 1477.8L267.2 1472.8L260.9 1468.0L254.7 1463.3L248.4 1458.7L242.2 1454.2L235.9 1449.8L229.7 1445.6L223.4 1441.4L217.1 1437.4L210.9 1433.4L207.5 1431.3ZM642.7 1655.4L648.6 1614.5L654.9 1619.9L661.1 1627.0L667.4 1634.6L671.1 1655.4L671.1 1655.4L667.4 1655.4L661.1 1655.4L654.9 1655.4L648.6 1655.4L642.7 1655.4ZM683.4 1655.4L686.1 1617.8L692.4 1630.5L698.6 1630.5L704.9 1643.1L711.1 1643.1L717.4 1655.4L717.4 1655.4L711.1 1655.4L704.9 1655.4L698.6 1655.4L692.4 1655.4L686.1 1655.4L683.4 1655.4Z" fill="#dc143c" fill-opacity="0.2" stroke="#dc143c" stroke-opacity="0.12" stroke-width="0.8" clip-path="url(#clip4)"/>
<polyline points="117.1,1383.5 123.4,1386.3 129.6,1389.2 135.9,1392.2 142.1,1395.2 148.4,1398.3 154.6,1401.5 160.9,1404.8 167.1,1417.7 173.4,1419.8 179.6,1422.6 185.9,1425.4 192.1,1428.2 198.4,1427.6 204.6,1431.3 210.9,1431.3 217.1,1434.0 223.4,1434.0 229.7,1437.1 235.9,1440.2 242.2,1443.2 248.4,1446.2 254.7,1449.2 260.9,1452.1 267.2,1455.1 273.4,1458.0 279.7,1461.5 285.9,1465.0 292.2,1468.5 298.4,1466.8 304.7,1470.4 310.9,1468.3 317.2,1484.0 323.4,1487.7 329.7,1503.8 336.0,1501.1 342.2,1504.6 348.5,1493.5 354.7,1496.6 361.0,1491.8 367.2,1495.4 373.5,1510.4 379.7,1514.0 386.0,1517.5 392.2,1521.1 398.5,1524.7 404.7,1528.3 411.0,1520.7 417.2,1524.4 423.5,1528.6 429.8,1544.3 436.0,1559.9 442.3,1564.1 448.5,1553.7 454.8,1557.3 461.0,1560.9 467.3,1548.7 473.5,1552.2 479.8,1567.8 486.0,1571.6 492.3,1556.2 498.5,1540.7 504.8,1543.5 511.0,1546.2 517.3,1548.9 523.5,1551.6 529.8,1566.8 536.1,1570.1 542.3,1573.5 548.6,1577.5 554.8,1581.5 561.1,1585.6 567.3,1602.8 573.6,1607.9 579.8,1612.9 586.1,1617.9 592.3,1624.7 598.6,1631.5 604.8,1650.6 611.1,1659.8 617.3,1668.9 623.6,1679.4 629.8,1689.8 636.1,1700.2 642.4,1657.6 648.6,1614.5 654.9,1619.9 661.1,1627.0 667.4,1634.6 673.6,1669.6 679.9,1704.7 686.1,1617.8 692.4,1630.5 698.6,1630.5 704.9,1643.1 711.1,1643.1 717.4,1655.4 723.6,1655.4 729.9,1655.4 736.1,1655.4" fill="none" stroke="#0d4b9b" stroke-width="2" stroke-linejoin="round" clip-path="url(#clip4)"/>
<polyline points="117.1,1383.5 123.4,1386.3 129.6,1389.2 135.9,1392.2 142.1,1395.2 148.4,1398.3 154.6,1401.5 160.9,1404.8 167.1,1408.1 173.4,1411.4 179.6,1414.9 185.9,1418.4 192.1,1422.0 198.4,1425.7 204.6,1429.5 210.9,1433.4 217.1,1437.4 223.4,1441.4 229.7,1445.6 235.9,1449.8 242.2,1454.2 248.4,1458.7 254.7,1463.3 260.9,1468.0 267.2,1472.8 273.4,1477.8 279.7,1482.9 285.9,1488.1 292.2,1493.5 298.4,1499.1 304.7,1504.8 310.9,1510.6 317.2,1516.7 323.4,1522.9 329.7,1529.3 336.0,1535.9 342.2,1542.7 348.5,1549.7 354.7,1556.9 361.0,1564.4 367.2,1572.2 373.5,1580.1 379.7,1588.4 386.0,1597.0 392.2,1605.8 398.5,1615.0 404.7,1624.6 411.0,1634.5 417.2,1644.7 423.5,1655.4 429.8,1666.5 436.0,1678.1 442.3,1690.1 448.5,1702.6 454.8,1715.7 461.0,1729.4 467.3,1743.7 473.5,1758.7 479.8,1774.3 486.0,1790.8 492.3,1808.0 498.5,1826.2 504.8,1845.3 511.0,1865.4 517.3,1886.7 523.5,1909.1 529.8,1932.9 536.1,1958.1 542.3,1984.9 548.6,2013.5 554.8,2043.9 561.1,2076.4 567.3,2111.3 573.6,2148.7" fill="none" stroke="#000" stroke-width="2" stroke-linejoin="round" clip-path="url(#clip4)"/>
<path d="M117.1 1655.4H742.4" stroke="#000" stroke-width="2.2" stroke-dasharray="2.1 2.3" fill="none"/>
<path d="M117.1 1300.6V1787.2H742.9" fill="none" stroke="#454545" stroke-width="1.8"/>
<path d="M117.1 1787.2v4.3M242.2 1787.2v4.3M367.2 1787.2v4.3M492.3 1787.2v4.3M617.3 1787.2v4.3M742.4 1787.2v4.3M117.1 1766.4h-4.3M117.1 1710.9h-4.3M117.1 1655.4h-4.3M117.1 1599.9h-4.3M117.1 1544.4h-4.3M117.1 1488.9h-4.3M117.1 1433.4h-4.3M117.1 1377.9h-4.3M117.1 1322.4h-4.3" fill="none" stroke="#222" stroke-width="1.3"/>
<g font-family='"Liberation Sans", sans-serif' font-size="18.8" fill="#000" stroke="#000" stroke-width="0.4">
<text x="105.4" y="1809.1" textLength="22.8" lengthAdjust="spacingAndGlyphs">0.0</text>
<text x="230.5" y="1809.1" textLength="22.8" lengthAdjust="spacingAndGlyphs">0.2</text>
<text x="355.5" y="1809.1" textLength="22.8" lengthAdjust="spacingAndGlyphs">0.4</text>
<text x="480.6" y="1809.1" textLength="22.8" lengthAdjust="spacingAndGlyphs">0.6</text>
<text x="605.6" y="1809.1" textLength="22.8" lengthAdjust="spacingAndGlyphs">0.8</text>
<text x="730.7" y="1809.1" textLength="22.8" lengthAdjust="spacingAndGlyphs">1.0</text>
<text x="79.5" y="1773.0" textLength="29.4" lengthAdjust="spacingAndGlyphs">-0.2</text>
<text x="79.5" y="1717.5" textLength="29.4" lengthAdjust="spacingAndGlyphs">-0.1</text>
<text x="86.1" y="1662.0" textLength="22.8" lengthAdjust="spacingAndGlyphs">0.0</text>
<text x="86.1" y="1606.5" textLength="22.8" lengthAdjust="spacingAndGlyphs">0.1</text>
<text x="86.1" y="1551.0" textLength="22.8" lengthAdjust="spacingAndGlyphs">0.2</text>
<text x="86.1" y="1495.5" textLength="22.8" lengthAdjust="spacingAndGlyphs">0.3</text>
<text x="86.1" y="1440.0" textLength="22.8" lengthAdjust="spacingAndGlyphs">0.4</text>
<text x="86.1" y="1384.5" textLength="22.8" lengthAdjust="spacingAndGlyphs">0.5</text>
<text x="86.1" y="1329.0" textLength="22.8" lengthAdjust="spacingAndGlyphs">0.6</text>
</g>
<text x="429.2" y="1829.7" font-family='"Liberation Serif", serif' font-size="17.6" stroke="#000" stroke-width="0.4" text-anchor="middle" textLength="146" lengthAdjust="spacingAndGlyphs">Threshold Probability</text>
<text transform="translate(71.4 1544.6) rotate(-90)" font-family='"Liberation Serif", serif' font-size="17.6" stroke="#000" stroke-width="0.4" text-anchor="middle" textLength="76.5" lengthAdjust="spacingAndGlyphs">Net Benefit</text>
<text x="429.4" y="1294.3" font-family='"Liberation Sans", sans-serif' font-size="21.2" stroke="#000" stroke-width="0.3" text-anchor="middle" textLength="199.0" lengthAdjust="spacingAndGlyphs">Model XGBoost DCA</text>
<rect x="587.9" y="1309.2" width="146.3" height="83.0" rx="4" ry="4" fill="#fff" fill-opacity="0.8" stroke="#cfcfcf" stroke-width="1.2"/>
<path d="M594.5 1324.2h35" stroke="#0d4b9b" stroke-width="2" fill="none"/>
<path d="M594.5 1350.0h35" stroke="#000" stroke-width="2" fill="none"/>
<path d="M594.5 1375.8h35" stroke="#000" stroke-width="1.9" stroke-dasharray="1.9 2.5" fill="none"/>
<g font-family='"Liberation Sans", sans-serif' font-size="17.6" fill="#000" stroke="#000" stroke-width="0.35">
<text x="641.9" y="1329.8" textLength="50.4" lengthAdjust="spacingAndGlyphs">Model</text>
<text x="641.9" y="1356.1" textLength="61.5" lengthAdjust="spacingAndGlyphs">Treat all</text>
<text x="641.9" y="1381.8" textLength="85.0" lengthAdjust="spacingAndGlyphs">Treat none</text>
</g>
<text transform="translate(5.0 1346.7) scale(0.965 1)" font-family='"Liberation Sans", sans-serif' font-size="81.2" fill="#000" stroke="#000" stroke-width="0.5">E</text>
</g>
</svg>
</body>
</html>
